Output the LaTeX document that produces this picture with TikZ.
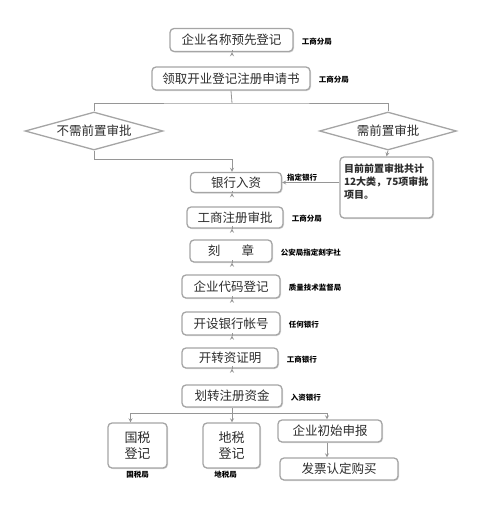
\documentclass[tikz,border=0pt]{standalone}
\usepackage{fontspec}
\setmainfont{Noto Sans CJK SC}
\usepackage{tikz}
\usetikzlibrary{shapes.geometric,arrows,shadows}
\definecolor{BoxLine}{RGB}{165,165,165}
\definecolor{FlowLine}{RGB}{150,150,150}
\definecolor{TextGray}{RGB}{45,45,45}

\begin{document}
\begin{tikzpicture}[x=1pt, y=1pt, >=stealth,
  flowbox/.style={draw=BoxLine, line width=1.3pt, rounded corners=4pt, fill=white,
    drop shadow={shadow xshift=1pt, shadow yshift=-1pt, opacity=0.3},
    text=TextGray, font=\fontsize{12.5}{14}\selectfont, inner sep=0pt},
  choice/.style={diamond, aspect=3.6, draw=BoxLine, line width=1.3pt, fill=white, inner sep=0pt,
    text=TextGray, font=\fontsize{12.5}{14}\selectfont},
  tag/.style={font=\fontsize{7.5}{9}\selectfont\bfseries, text=black, inner sep=1pt},
  flow/.style={draw=FlowLine, line width=0.8pt}]

  % Frame
  \useasboundingbox (0,0) rectangle (485,-507);

  % Main chain with its offices
  \foreach \name/\x/\y/\w/\h/\txt/\office in {
    n1/231.5/40/123/23/企业名称预先登记/工商分局,
    n2/231/78.5/158/23/领取开业登记注册申请书/工商分局,
    reg/235/217.5/96/21/工商注册审批/工商分局,
    seal/231/251/82/22/刻\hspace{1.7em}章/公安局指定刻字社,
    code/231/286.5/98/23/企业代码登记/质量技术监督局,
    acct/231/323.5/98/23/开设银行帐号/任何银行,
    cert/230/358/96/20/开转资证明/工商银行,
    transfer/232/396/100/22/划转注册资金/入资银行} {
    \node[flowbox, minimum width=\w, minimum height=\h] (\name) at (\x,-\y) {\txt};
    \node[tag, anchor=west] (\name-office) at ([xshift=7pt, yshift=-1.5pt]\name.east) {\office};
  }

  % Bank deposit
  \node[flowbox, minimum width=91, minimum height=20] (bank) at (236,-182.5) {银行入资};

  % Approval split
  \node[choice, minimum width=138, minimum height=38] (d1) at (94,-131) {不需前置审批};
  \node[choice, minimum width=137, minimum height=38] (d2) at (388,-131) {需前置审批};
  \coordinate (split) at (232,-103);
  \draw[flow] (n2.south) -- (split);
  \draw[flow] (d1.north) |- (split) -| (d2.north);

  % Note on approvals
  \node[flowbox, minimum width=93, minimum height=61, text width=85, inner sep=4pt,
    align=left, font=\fontsize{10}{13}\selectfont\bfseries] (note) at (386.5,-187.5)
    {目前前置审批共计\\12大类，75项审批\\项目。\\ \mbox{}};
  \draw[flow, ->] (d2.south) -- (note.north);
  \draw[flow, ->] (d1.south) -- ++(0,-9) -| (bank.north -| split);
  \draw[flow, ->] (bank.east -| note.west) -- node[tag, pos=0.65, above] (bank-office) {指定银行} (bank.east);

  % Arrows down the chain
  \foreach \a/\b in {n1/n2, bank/reg, reg/seal, seal/code, code/acct, acct/cert, cert/transfer}
    \draw[flow, ->] (\a.south -| split) -- (\a.south -| split |- \b.north);

  % Final branches
  \node[flowbox, minimum width=59, minimum height=45, align=center,
    font=\fontsize{13}{15.5}\selectfont] (ntax) at (137.5,-445.5) {国税\\登记};
  \node[flowbox, minimum width=57, minimum height=45, align=center,
    font=\fontsize{13}{15.5}\selectfont] (ltax) at (231.5,-445.5) {地税\\登记};
  \node[flowbox, minimum width=104, minimum height=22] (init) at (330,-431) {企业初始申报};
  \node[flowbox, minimum width=118, minimum height=22] (invoice) at (339,-469) {发票认定购买};
  \node[tag, below=1pt] (ntax-office) at (ntax.south) {国税局};
  \node[tag, below=1pt] (ltax-office) at ([xshift=-6pt]ltax.south) {地税局};

  \coordinate (split2) at (232,-413);
  \draw[flow] (transfer.south -| split2) -- (split2);
  \draw[flow, ->] (split2) -| ([xshift=-7pt]ntax.north);
  \draw[flow, ->] (split2) -- (ltax.north -| split2);
  \draw[flow, ->] (split2) -| ([xshift=-3pt]init.north);
  \draw[flow, ->] ([xshift=-3pt]init.south) -- ([xshift=-3pt]init.south |- invoice.north);
\end{tikzpicture}
\end{document}
